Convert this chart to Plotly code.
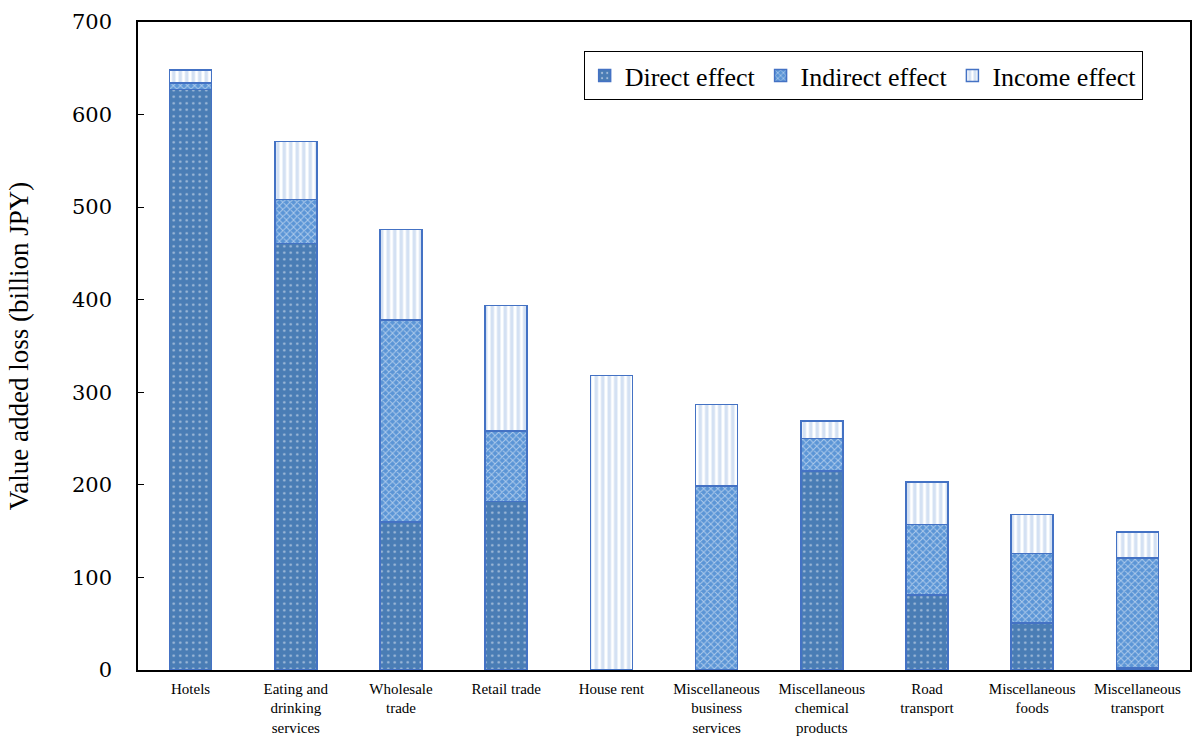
import plotly.graph_objects as go

# Sector labels (line breaks as they appear under the axis)
sectors = [
    "Hotels",
    "Eating and<br>drinking<br>services",
    "Wholesale<br>trade",
    "Retail trade",
    "House rent",
    "Miscellaneous<br>business<br>services",
    "Miscellaneous<br>chemical<br>products",
    "Road<br>transport",
    "Miscellaneous<br>foods",
    "Miscellaneous<br>transport",
]

# Value added loss components (billion JPY)
direct_effect = [627, 461, 160, 182, 0, 0, 215, 81, 51, 2]
indirect_effect = [7, 47, 218, 76, 0, 199, 35, 76, 75, 119]
income_effect = [14, 63, 98, 136, 318, 88, 19, 46, 42, 28]

y_ticks = [0, 100, 200, 300, 400, 500, 600, 700]

FONT = "Liberation Serif"
EDGE = "#4472c4"


def outline(values):
    # no outline on empty segments so they leave no stray line at the base
    return [1.5 if v > 0 else 0 for v in values]


fig = go.Figure()

fig.add_trace(go.Bar(
    name="Direct effect",
    x=sectors, y=direct_effect,
    width=0.4,
    marker=dict(
        color="#4a7db5",
        line=dict(color=EDGE, width=outline(direct_effect)),
        pattern=dict(shape=".", fgcolor="white", bgcolor="#4a7db5",
                     size=6.5, solidity=0.12, fillmode="overlay"),
    ),
))
fig.add_trace(go.Bar(
    name="Indirect effect",
    x=sectors, y=indirect_effect,
    width=0.4,
    marker=dict(
        color="#5b95d6",
        line=dict(color=EDGE, width=outline(indirect_effect)),
        pattern=dict(shape="x", fgcolor="white", bgcolor="#5b95d6",
                     size=5, solidity=0.35, fillmode="overlay"),
    ),
))
fig.add_trace(go.Bar(
    name="Income effect",
    x=sectors, y=income_effect,
    width=0.4,
    marker=dict(
        color="white",
        line=dict(color=EDGE, width=outline(income_effect)),
        pattern=dict(shape="|", fgcolor="#a9c4e8", bgcolor="white",
                     size=6.5, solidity=0.55, fillmode="overlay"),
    ),
))

fig.update_layout(
    barmode="stack",
    width=1195, height=742,
    margin=dict(l=138, r=5, t=22, b=72, autoexpand=False),
    paper_bgcolor="white",
    plot_bgcolor="white",
    font=dict(family=FONT, color="black"),
    showlegend=True,
    legend=dict(
        orientation="h",
        x=0.955, xanchor="right",
        y=0.955, yanchor="top",
        bordercolor="black", borderwidth=1,
        bgcolor="white",
        font=dict(family=FONT, size=26, color="black"),
        itemwidth=30,
        traceorder="normal",
    ),
    bargap=0.6,
)

fig.update_xaxes(
    automargin=False,
    showline=True, linecolor="black", linewidth=1.5, mirror=True,
    ticks="", showgrid=False,
    ticklabelstandoff=4,
    tickfont=dict(family=FONT, size=15, color="black"),
)
fig.update_yaxes(
    automargin=False,
    range=[0, 700],
    tickvals=y_ticks,
    ticktext=[str(v) for v in y_ticks],
    showline=True, linecolor="black", linewidth=1.5, mirror=True,
    ticks="inside", ticklen=6, tickcolor="black",
    showgrid=False, zeroline=False,
    ticklabelstandoff=20,
    tickfont=dict(family="DejaVu Serif", size=21, color="black"),
    title=dict(text="Value added loss (billion JPY)",
               font=dict(family=FONT, size=27, color="black"),
               standoff=36),
)

fig.write_html("out.html")
